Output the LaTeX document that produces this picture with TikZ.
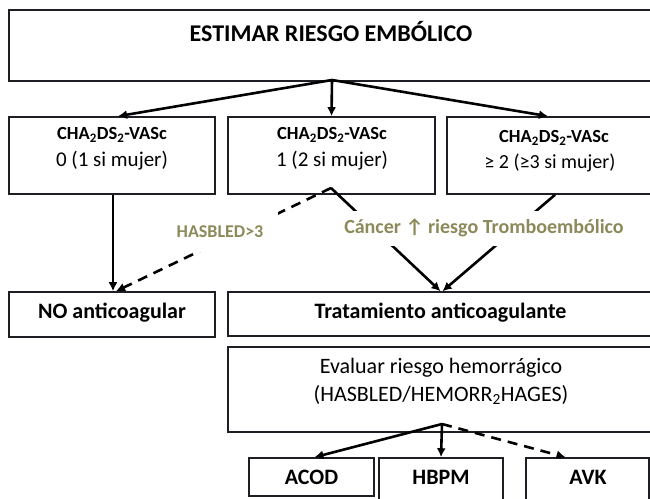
\documentclass[tikz,border=0pt]{standalone}
\usepackage{fontspec}
\setmainfont{Carlito}
\usetikzlibrary{arrows.meta}
\definecolor{labcol}{RGB}{140,138,90}
\definecolor{boxcol}{RGB}{30,30,36}
\begin{document}
\begin{tikzpicture}[x=1pt,y=-1pt,
  box/.style={draw=boxcol, line width=1.6pt, inner sep=0pt},
  arr/.style={line width=2.6pt, -{Latex[length=9pt,width=9pt]}},
  dsh/.style={dash pattern=on 10pt off 7pt},
  lab/.style={text=labcol, font=\bfseries\fontsize{18}{20}\selectfont, fill=white, inner sep=0pt},
  bt/.style={font=\bfseries\fontsize{18.5}{21}\selectfont, inner sep=0pt},
  rt/.style={font=\fontsize{21}{24}\selectfont, inner sep=0pt},
  et/.style={font=\fontsize{22}{25}\selectfont, inner sep=0pt},
  bx/.style={font=\bfseries\fontsize{22}{25}\selectfont, inner sep=0pt}]
\useasboundingbox (0,0) rectangle (650,498);
\fill[white] (0,0) rectangle (650,498);

% top box
\node[box, minimum width=644, minimum height=71] (top) at (331,45.5) {};
\node[font=\bfseries\fontsize{24}{27}\selectfont, inner sep=0pt] (toptxt) at (331,32) {ESTIMAR RIESGO EMBÓLICO};

% row 2
\node[box, minimum width=206, minimum height=77] (b1) at (112,155.5) {};
\node[bt] (b1a) at (112,135) {CHA\textsubscript{2}DS\textsubscript{2}-VASc};
\node[rt] (b1b) at (112,161) {0 (1 si mujer)};
\node[box, minimum width=207, minimum height=77] (b2) at (331.5,155.5) {};
\node[bt] (b2a) at (332,135) {CHA\textsubscript{2}DS\textsubscript{2}-VASc};
\node[rt] (b2b) at (332,161) {1 (2 si mujer)};
\node[box, minimum width=214, minimum height=77] (b3) at (554,155.5) {};
\node[bt] (b3a) at (554,138) {CHA\textsubscript{2}DS\textsubscript{2}-VASc};
\node[font=\fontsize{20}{23}\selectfont, inner sep=0pt] (b3b) at (550,163) {≥ 2 (≥3 si mujer)};

% row 3
\node[box, minimum width=206, minimum height=45] (no) at (112,314.5) {};
\node[bx] (notxt) at (112,313) {NO anticoagular};
\node[box, minimum width=425, minimum height=44] (tr) at (440.5,314) {};
\node[bx] (trtxt) at (440.5,313) {Tratamiento anticoagulante};

% row 4
\node[box, minimum width=425, minimum height=85] (ev) at (440.5,389.5) {};
\node[et] (eva) at (441,368) {Evaluar riesgo hemorrágico};
\node[et] (evb) at (441,395) {(HASBLED/HEMORR\textsubscript{2}HAGES)};

% row 5
\node[box, minimum width=125, minimum height=38] (acod) at (311.5,477) {};
\node[bx] (acodt) at (311.5,477) {ACOD};
\node[box, minimum width=124, minimum height=42] (hbpm) at (441,479) {};
\node[bx] (hbpmt) at (441,477) {HBPM};
\node[box, minimum width=123, minimum height=42] (avk) at (587.5,479) {};
\node[bx] (avkt) at (588,477) {AVK};

% connectors
\coordinate (tsrc) at (332,80);
\draw[arr] (tsrc) -- ([xshift=6pt]b1.north);
\draw[arr] (tsrc) -- (b2.north);
\draw[arr] (tsrc) -- ([xshift=-6pt]b3.north);

\draw[arr] ([xshift=1pt]b1.south) -- ([xshift=1pt]no.north);
\coordinate (p2) at (331,188);
\draw[arr, dsh] (p2) -- ([xshift=4pt]no.north);
\draw[arr] (p2) -- (tr.north);
\draw[arr] ([xshift=1pt]b3.south) -- ([xshift=2pt]tr.north);

\node[lab, minimum width=115, minimum height=40] (hl) at (220,232) {HASBLED>3};
\node[lab, font=\bfseries\fontsize{20}{22}\selectfont, minimum width=280, minimum height=35] (cl) at (484,228) {Cáncer ↑ riesgo Tromboembólico};

\coordinate (esrc) at (442,424);
\draw[arr] (esrc) -- ([xshift=3pt]acod.north);
\draw[arr] (esrc) -- (hbpm.north);
\draw[arr, dsh] (esrc) -- ([xshift=-22pt]avk.north);
\end{tikzpicture}
\end{document}
